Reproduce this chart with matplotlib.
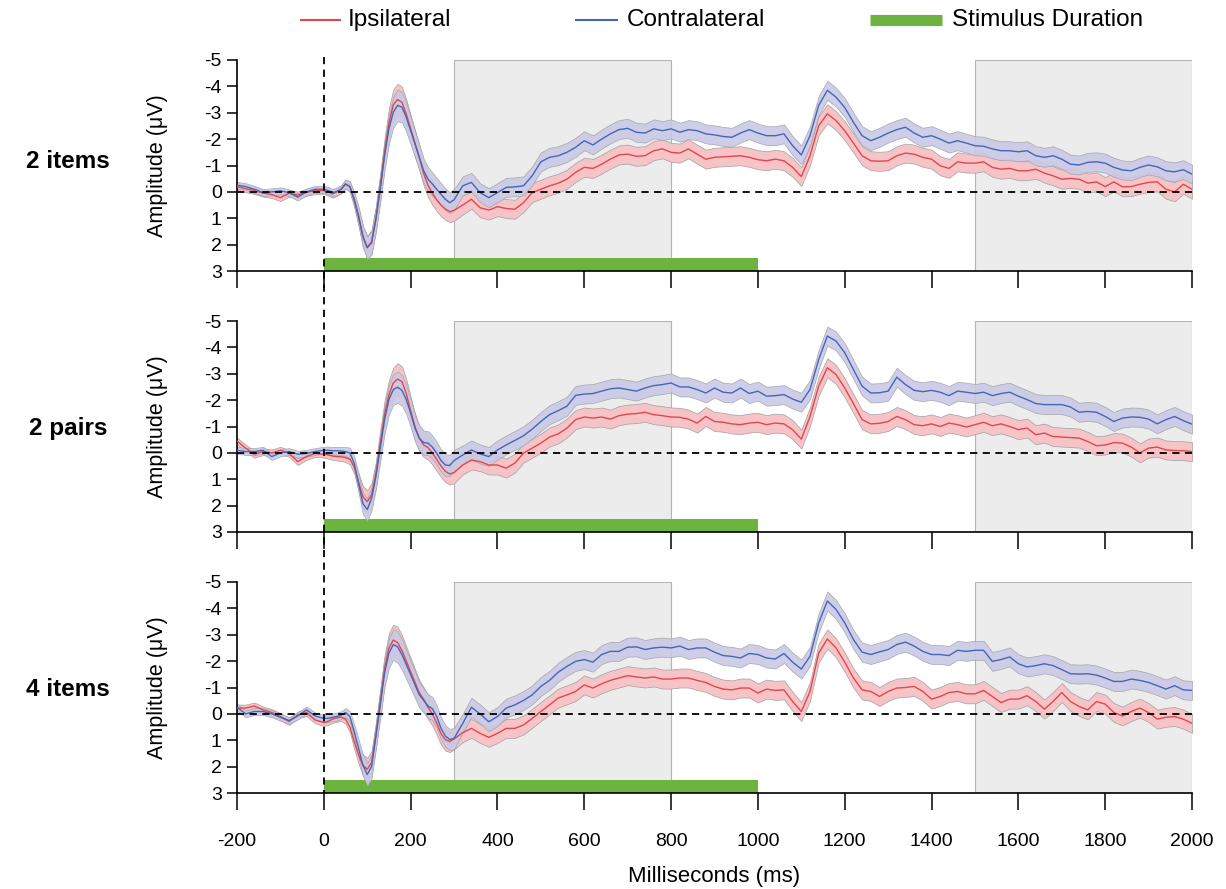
import numpy as np
import matplotlib
matplotlib.use("Agg")
import matplotlib.pyplot as plt
import matplotlib.transforms as mtransforms
from matplotlib.lines import Line2D
from matplotlib.patches import Rectangle

plt.rcParams['font.family'] = ['Liberation Sans', 'DejaVu Sans']
plt.rcParams['axes.unicode_minus'] = False

# sample times (ms): baseline, early components, late window
time_ms = np.concatenate([np.arange(-200, 1, 20),
                          np.arange(10, 301, 10),
                          np.arange(320, 2001, 20)])

# half-width of the shaded error band at each sample
sem = np.array(
    [0.13] * 11 +
    [0.14, 0.14, 0.15, 0.15, 0.17, 0.2, 0.27, 0.34, 0.4, 0.43,
     0.45, 0.47, 0.5, 0.53, 0.56, 0.58, 0.6, 0.58, 0.55, 0.52,
     0.5, 0.48, 0.46, 0.45, 0.44, 0.43, 0.42, 0.41, 0.4, 0.4] +
    [0.36] * 85)

conditions = ["2 items", "2 pairs", "4 items"]

# --- 2 items ---
contra_2items = [
    -0.25, -0.2, -0.1, 0.03, 0.0, -0.04, 0.03, 0.2, 0.0, -0.1, -0.1,
    -0.05, 0.03, -0.02, -0.1, -0.3, -0.2, 0.28, 0.9, 1.68, 2.12,
    1.93, 1.04, -0.1, -1.37, -2.39, -3.02, -3.28, -3.21, -2.83, -2.32,
    -1.82, -1.31, -0.8, -0.48, -0.3, -0.1, 0.09, 0.28, 0.41, 0.3,
    -0.23, -0.36, 0.03, 0.22, 0.03,
    -0.17, -0.19, -0.23, -0.61, -1.14,
    -1.31, -1.37, -1.5, -1.69, -1.94,
    -1.78, -2.0, -2.2, -2.36, -2.41,
    -2.26, -2.23, -2.39, -2.32, -2.39,
    -2.26, -2.36, -2.32, -2.2, -2.16,
    -2.1, -2.07, -2.23, -2.36, -2.23,
    -2.13, -2.13, -2.2, -1.75, -1.4,
    -2.13, -3.28, -3.85, -3.59, -3.2,
    -2.64, -2.13, -1.94, -2.07, -2.23,
    -2.36, -2.45, -2.23, -2.07, -2.13,
    -2.0, -1.85, -1.94, -1.85, -1.75,
    -1.73, -1.63, -1.56, -1.56, -1.52,
    -1.56, -1.37, -1.31, -1.37, -1.24,
    -1.05, -1.02, -1.12, -1.14, -1.09,
    -0.93, -0.83, -0.8, -0.93, -1.02,
    -0.95, -0.8, -0.76, -0.84, -0.67,
]
ipsi_2items = [
    -0.2, -0.12, -0.05, 0.05, 0.1, 0.22, 0.05, 0.12, 0.02, -0.05, -0.05,
    0.0, 0.08, 0.0, -0.1, -0.3, -0.2, 0.3, 0.95, 1.7, 2.1,
    1.9, 1.0, -0.2, -1.5, -2.6, -3.3, -3.5, -3.4, -2.95, -2.4,
    -1.85, -1.3, -0.7, -0.25, 0.05, 0.3, 0.5, 0.65, 0.75, 0.7,
    0.5, 0.28, 0.6, 0.69, 0.56,
    0.63, 0.66, 0.41, 0.03, -0.1,
    -0.23, -0.33, -0.48, -0.74, -0.93,
    -0.89, -1.05, -1.24, -1.4, -1.43,
    -1.35, -1.37, -1.56, -1.63, -1.5,
    -1.47, -1.63, -1.43, -1.24, -1.31,
    -1.33, -1.35, -1.37, -1.31, -1.22,
    -1.18, -1.24, -1.18, -0.93, -0.58,
    -1.37, -2.51, -2.96, -2.7, -2.32,
    -1.85, -1.37, -1.18, -1.16, -1.18,
    -1.37, -1.47, -1.43, -1.31, -1.24,
    -0.99, -0.89, -1.14, -1.09, -1.09,
    -1.14, -0.93, -0.86, -0.89, -0.8,
    -0.8, -0.86, -0.71, -0.61, -0.48,
    -0.51, -0.48, -0.33, -0.38, -0.2,
    -0.38, -0.19, -0.2, -0.29, -0.36,
    -0.38, -0.1, 0.0, -0.29, -0.1,
]

# --- 2 pairs ---
contra_2pairs = [
    -0.1, -0.05, -0.05, -0.1, 0.14, 0.0, -0.05, 0.05, 0.02, -0.05, -0.1,
    -0.1, -0.08, -0.08, -0.07, -0.05, 0.0, 0.39, 1.16, 1.92, 2.15,
    1.73, 0.9, -0.18, -1.26, -2.02, -2.4, -2.49, -2.37, -2.02, -1.51,
    -0.94, -0.56, -0.39, -0.37, -0.22, 0.01, 0.29, 0.46, 0.48, 0.29,
    0.08, -0.11, 0.04, 0.14, -0.11,
    -0.3, -0.47, -0.65, -0.9, -1.19,
    -1.45, -1.6, -1.77, -2.18, -2.23,
    -2.25, -2.34, -2.43, -2.46, -2.4,
    -2.34, -2.46, -2.55, -2.59, -2.65,
    -2.5, -2.5, -2.4, -2.27, -2.46,
    -2.3, -2.27, -2.46, -2.25, -2.34,
    -2.15, -2.17, -2.21, -2.04, -1.92,
    -2.4, -3.54, -4.43, -4.24, -3.8,
    -3.16, -2.53, -2.27, -2.28, -2.34,
    -2.87, -2.59, -2.37, -2.32, -2.37,
    -2.3, -2.17, -2.34, -2.3, -2.25,
    -2.3, -2.17, -2.25, -2.3, -2.15,
    -2.02, -1.87, -1.83, -1.83, -1.83,
    -1.74, -1.54, -1.57, -1.54, -1.38,
    -1.19, -1.32, -1.36, -1.35, -1.28,
    -1.1, -1.26, -1.38, -1.22, -1.09,
]
ipsi_2pairs = [
    -0.45, -0.18, 0.05, -0.05, 0.0, -0.1, 0.02, 0.33, 0.14, 0.02, 0.05,
    0.08, 0.12, 0.14, 0.15, 0.18, 0.24, 0.52, 1.1, 1.66, 1.85,
    1.6, 0.8, -0.35, -1.45, -2.2, -2.65, -2.8, -2.7, -2.25, -1.6,
    -1.0, -0.55, -0.3, -0.2, 0.0, 0.25, 0.5, 0.7, 0.8, 0.75,
    0.46, 0.27, 0.33, 0.46, 0.46,
    0.58, 0.39, 0.01, -0.18, -0.37,
    -0.6, -0.72, -0.94, -1.26, -1.36,
    -1.32, -1.36, -1.28, -1.41, -1.47,
    -1.49, -1.54, -1.45, -1.41, -1.36,
    -1.35, -1.28, -1.13, -1.38, -1.19,
    -1.16, -1.1, -1.07, -1.13, -1.16,
    -1.07, -1.13, -1.1, -0.88, -0.52,
    -1.38, -2.53, -3.23, -2.97, -2.46,
    -1.87, -1.26, -1.1, -1.12, -1.19,
    -1.38, -1.26, -1.07, -1.03, -1.1,
    -1.0, -1.13, -1.07, -0.98, -1.07,
    -1.16, -1.03, -1.1, -1.0, -0.88,
    -0.94, -0.69, -0.75, -0.62, -0.6,
    -0.58, -0.56, -0.43, -0.27, -0.3,
    -0.39, -0.37, -0.22, 0.0, -0.18,
    -0.22, -0.11, -0.09, -0.08, -0.05,
]

# --- 4 items ---
contra_4items = [
    -0.25, 0.0, -0.09, -0.09, 0.0, 0.13, 0.25, 0.08, -0.15, 0.08, 0.17,
    0.17, 0.13, 0.1, 0.05, -0.05, 0.1, 0.67, 1.3, 1.94, 2.3,
    2.0, 0.86, -0.34, -1.55, -2.31, -2.63, -2.54, -2.25, -1.87, -1.49,
    -1.1, -0.72, -0.51, -0.3, -0.2, 0.1, 0.55, 0.84, 0.97, 0.93,
    0.36, -0.25, 0.0, 0.3, 0.1,
    -0.22, -0.34, -0.51, -0.72, -1.04,
    -1.27, -1.58, -1.8, -1.99, -2.06,
    -1.96, -2.25, -2.37, -2.37, -2.53,
    -2.54, -2.44, -2.5, -2.53, -2.5,
    -2.57, -2.44, -2.5, -2.5, -2.34,
    -2.21, -2.18, -2.12, -2.29, -2.25,
    -2.12, -2.08, -2.29, -1.96, -1.7,
    -2.18, -3.45, -4.28, -3.96, -3.45,
    -2.82, -2.34, -2.25, -2.35, -2.44,
    -2.63, -2.72, -2.57, -2.37, -2.25,
    -2.25, -2.21, -2.41, -2.37, -2.41,
    -2.41, -1.99, -2.06, -2.16, -1.9,
    -1.78, -1.83, -1.9, -1.83, -1.68,
    -1.52, -1.51, -1.52, -1.47, -1.36,
    -1.23, -1.23, -1.32, -1.27, -1.19,
    -1.07, -0.94, -1.07, -0.91, -0.89,
]
ipsi_4items = [
    -0.22, -0.22, -0.3, -0.15, -0.05, 0.1, 0.29, 0.04, -0.05, 0.23, 0.33,
    0.28, 0.2, 0.15, 0.12, 0.2, 0.5, 1.05, 1.55, 1.94, 2.1,
    1.85, 0.8, -0.45, -1.7, -2.5, -2.8, -2.7, -2.4, -2.0, -1.6,
    -1.2, -0.8, -0.55, -0.25, 0.0, 0.35, 0.75, 0.98, 1.05, 0.95,
    0.71, 0.55, 0.74, 0.89, 0.74,
    0.55, 0.55, 0.42, 0.17, -0.09,
    -0.34, -0.6, -0.72, -0.85, -1.1,
    -0.98, -1.14, -1.27, -1.36, -1.45,
    -1.4, -1.36, -1.4, -1.32, -1.32,
    -1.36, -1.36, -1.27, -1.19, -1.04,
    -0.94, -0.91, -0.98, -0.98, -0.79,
    -0.94, -0.89, -0.91, -0.47, -0.09,
    -0.85, -2.31, -2.84, -2.5, -1.96,
    -1.36, -0.91, -0.85, -0.66, -0.85,
    -0.98, -1.0, -1.04, -0.85, -0.56,
    -0.66, -0.81, -0.85, -0.76, -0.76,
    -0.89, -0.66, -0.43, -0.56, -0.56,
    -0.69, -0.47, -0.18, -0.47, -0.81,
    -0.47, -0.28, -0.15, -0.47, -0.37,
    -0.05, 0.08, -0.09, -0.22, -0.05,
    0.2, 0.13, 0.1, 0.2, 0.36,
]

ipsi = [ipsi_2items, ipsi_2pairs, ipsi_4items]
contra = [contra_2items, contra_2pairs, contra_4items]
label_y = [0.52, 0.49, 0.49]

analysis_windows = [(300, 800), (1500, 2000)]
stimulus = (0, 1000)

RED, RED_FILL = '#e5454b', '#f6c4c7'
BLUE, BLUE_FILL = '#4865b4', '#c9c9e6'
GREEN = '#6cb33f'

W, H = 1226, 889
fig = plt.figure(figsize=(W / 100, H / 100), dpi=100)
tops = [60, 321, 582]
axes = []
for top in tops:
    ax = fig.add_axes([237 / W, 1 - (top + 211) / H, 955 / W, 211 / H])
    axes.append(ax)

for i, ax in enumerate(axes):
    r = np.array(ipsi[i])
    b = np.array(contra[i])

    for x0, x1 in analysis_windows:
        ax.add_patch(Rectangle((x0, -5), x1 - x0, 8, facecolor='#ececec',
                               edgecolor='#b4b4b4', lw=0.8, zorder=0))
    ax.add_patch(Rectangle((stimulus[0], 2.5), stimulus[1] - stimulus[0], 0.5,
                           facecolor=GREEN, edgecolor='none', zorder=1))

    ax.fill_between(time_ms, r - sem, r + sem, facecolor=RED_FILL,
                    edgecolor='#a0a0a0', lw=0.5, zorder=2)
    ax.fill_between(time_ms, b - sem, b + sem, facecolor=BLUE_FILL,
                    edgecolor='#a0a0a0', lw=0.5, alpha=0.9, zorder=2)
    ax.plot(time_ms, r, color=RED, lw=1.0, zorder=3)
    ax.plot(time_ms, b, color=BLUE, lw=1.0, zorder=3)
    ax.axhline(0, color='black', ls=(0, (4, 3)), lw=1.3, zorder=4)

    ax.set_xlim(-200, 2000)
    ax.set_ylim(3, -5)
    ax.set_xticks(range(-200, 2001, 200))
    ax.set_yticks(range(-5, 4))
    for side in ['top', 'right']:
        ax.spines[side].set_visible(False)
    for side in ['left', 'bottom']:
        ax.spines[side].set_linewidth(1.2)
    ax.tick_params(axis='x', direction='out', length=12, width=1.1,
                   labelsize=14, pad=17)
    ax.tick_params(axis='y', direction='out', length=7, width=1.1,
                   labelsize=14, pad=4)
    if i < 2:
        ax.tick_params(axis='x', labelbottom=False)

    ax.set_ylabel('Amplitude (μV)', fontsize=15.5)
    ax.yaxis.set_label_coords(-0.072, 0.5)
    ax.text(-0.177, label_y[i], conditions[i], transform=ax.transAxes,
            ha='center', va='center', fontsize=17.5, fontweight='bold')

axes[2].text(0.5, -0.395, 'Milliseconds (ms)', transform=axes[2].transAxes,
             ha='center', va='center', fontsize=16)

# stimulus onset marker running through all three panels
trans = mtransforms.blended_transform_factory(axes[2].transData, fig.transFigure)
fig.add_artist(Line2D([0, 0], [1 - 57 / H, 1 - 793 / H], transform=trans,
                      color='black', ls=(0, (4, 3)), lw=1.3, zorder=5))

# legend row across the top
legend_items = [(RED, 1.5, 300, 341, 348, 'Ipsilateral'),
                (BLUE, 1.5, 575, 618, 627, 'Contralateral'),
                (GREEN, 8, 870, 942, 952, 'Stimulus Duration')]
ly = 1 - 20 / H
for color, lw, x0, x1, xt, text in legend_items:
    fig.add_artist(Line2D([x0 / W, x1 / W], [ly, ly], color=color, lw=lw,
                          transform=fig.transFigure, solid_capstyle='butt'))
    fig.text(xt / W, ly, text, ha='left', va='center', fontsize=17.5)

fig.savefig('out.png', dpi=100)
